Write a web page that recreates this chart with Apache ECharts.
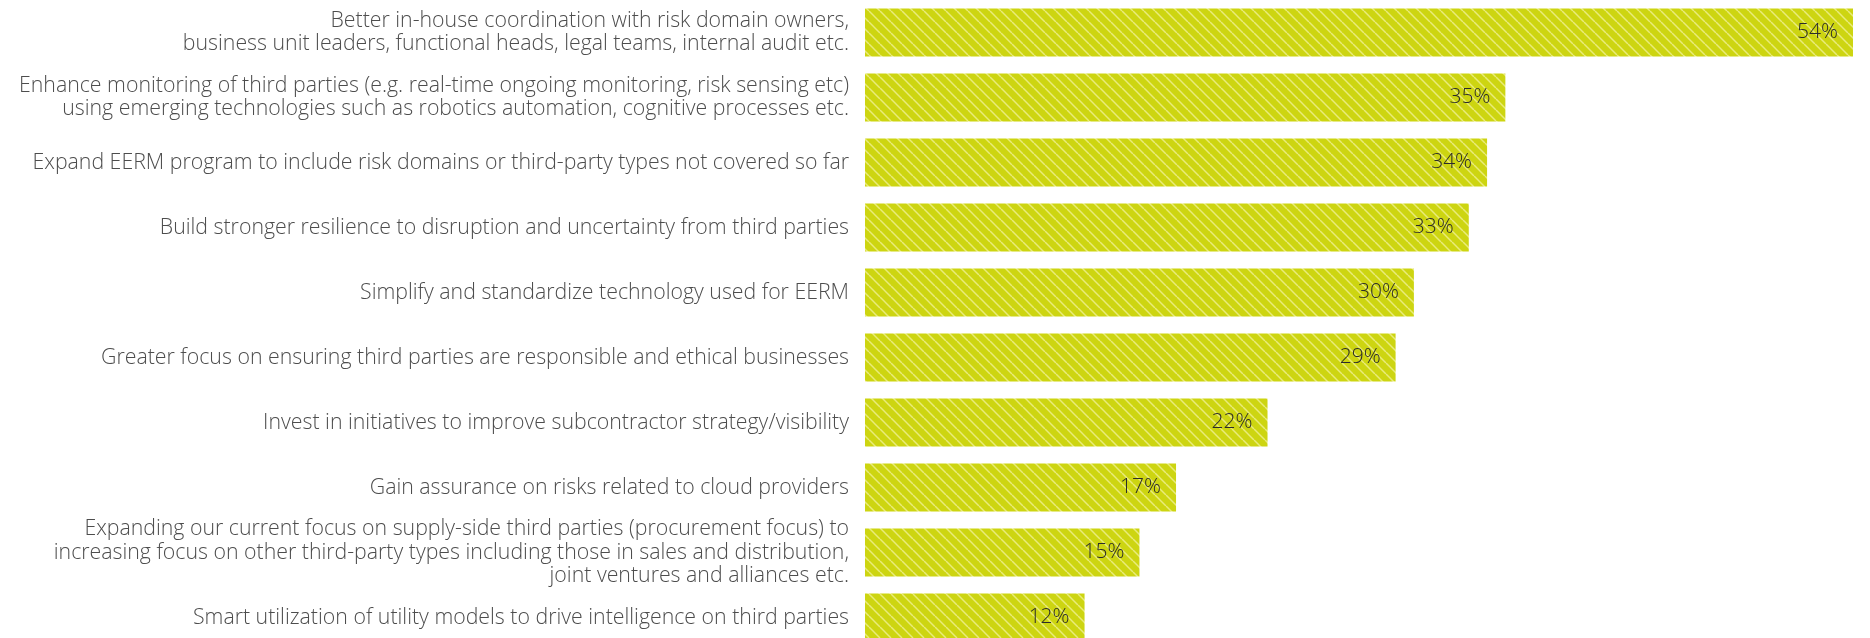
<!DOCTYPE html>
<html>
<head>
<meta charset="utf-8">
<script src="https://cdn.jsdelivr.net/npm/echarts@6/dist/echarts.min.js"></script>
<style>
  html, body { margin: 0; padding: 0; background: #fff; }
  #chart { width: 1870px; height: 638px; }
</style>
</head>
<body>
<div id="chart"></div>
<script>
// categories top to bottom
var categories = [
  "Better in-house coordination with risk domain owners,\nbusiness unit leaders, functional heads, legal teams, internal audit etc.",
  "Enhance monitoring of third parties (e.g. real-time ongoing monitoring, risk sensing etc)\nusing emerging technologies such as robotics automation, cognitive processes etc.",
  "Expand EERM program to include risk domains or third-party types not covered so far",
  "Build stronger resilience to disruption and uncertainty from third parties",
  "Simplify and standardize technology used for EERM",
  "Greater focus on ensuring third parties are responsible and ethical businesses",
  "Invest in initiatives to improve subcontractor strategy/visibility",
  "Gain assurance on risks related to cloud providers",
  "Expanding our current focus on supply-side third parties (procurement focus) to\nincreasing focus on other third-party types including those in sales and distribution,\njoint ventures and alliances etc.",
  "Smart utilization of utility models to drive intelligence on third parties"
];
var values = [54, 35, 34, 33, 30, 29, 22, 17, 15, 12];

// hatched fill for bars
function makeHatch() {
  var s = 11;
  var c = document.createElement("canvas");
  c.width = s; c.height = s;
  var ctx = c.getContext("2d");
  ctx.fillStyle = "#cdd511";
  ctx.fillRect(0, 0, s, s);
  ctx.strokeStyle = "rgba(240,240,150,0.8)";
  ctx.lineWidth = 1.5;
  [-s, 0, s].forEach(function (k) {
    ctx.beginPath();
    ctx.moveTo(k, 0);
    ctx.lineTo(k + s, s);
    ctx.stroke();
  });
  return c;
}

var chart = echarts.init(document.getElementById("chart"));
chart.setOption({
  animation: false,
  grid: { left: 865, top: 0, height: 650, right: 17, outerBoundsMode: "none", containLabel: false },
  xAxis: {
    type: "value",
    min: 0,
    max: 54,
    show: false
  },
  yAxis: {
    type: "category",
    data: categories,
    inverse: true,
    axisLine: { show: false },
    axisTick: { show: false },
    axisLabel: {
      margin: 16,
      color: "#4d4d4d",
      fontFamily: "Open Sans",
      fontWeight: 300,
      fontSize: 21.3,
      lineHeight: 23.5,
      align: "right"
    }
  },
  series: [{
    type: "bar",
    data: values,
    barWidth: 48,
    itemStyle: {
      color: { image: makeHatch(), repeat: "repeat" }
    },
    label: {
      show: true,
      position: "insideRight",
      distance: 15,
      formatter: "{c}%",
      color: "#2b2b2b",
      fontFamily: "Open Sans",
      fontWeight: 300,
      fontSize: 21
    }
  }]
});
</script>
</body>
</html>
